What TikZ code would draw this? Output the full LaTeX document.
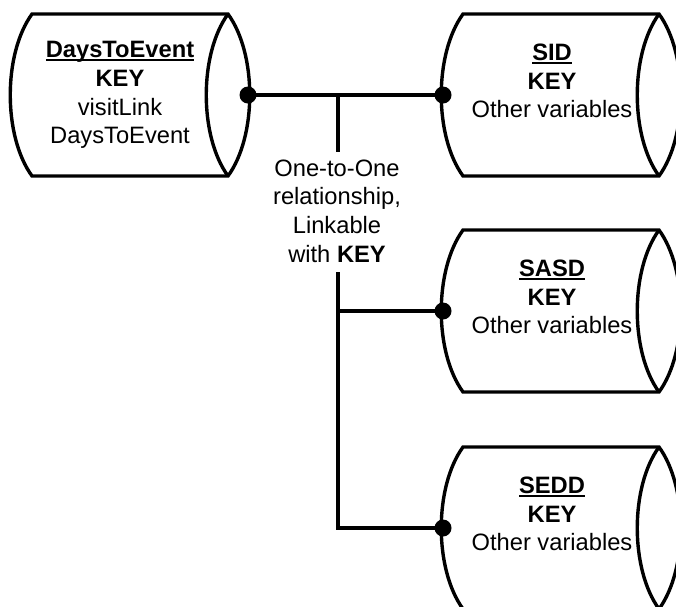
\documentclass[tikz,border=0pt]{standalone}
\usepackage{fontspec}
\setmainfont{Liberation Sans}
\newsavebox\myulbox
\newcommand\myul[1]{\sbox\myulbox{#1}\rlap{\rule[-3.2pt]{\wd\myulbox}{1.9pt}}\usebox\myulbox}
\newcommand\drawcyl[3]{%
  \draw[cylline] (#1,#2-81) -- (#3,#2-81) .. controls (#3+29,#2-41) and (#3+29,#2+41) .. (#3,#2+81)
     -- (#1,#2+81) .. controls (#1-29,#2+41) and (#1-29,#2-41) .. (#1,#2-81) -- cycle;
  \draw[cylline] (#3,#2-81) .. controls (#3-29,#2-41) and (#3-29,#2+41) .. (#3,#2+81);
}
\begin{document}
\begin{tikzpicture}[x=1pt,y=-1pt,
  cylline/.style={line width=3.4pt, line join=miter},
  conn/.style={line width=3.4pt},
  dot/.style={circle, fill=black, inner sep=0pt, minimum size=17pt},
  txt/.style={align=center, font=\fontsize{23.7}{28.6}\selectfont, inner sep=0pt}]
\useasboundingbox (0,0) rectangle (676,606);
% cylinders
\drawcyl{32}{95}{228}
\drawcyl{463}{95}{659}
\drawcyl{463}{311}{659}
\drawcyl{463}{528}{659}
% texts
\node[txt] (tDays) at (120,95) {\myul{\textbf{DaysToEvent}}\\\textbf{KEY}\\visitLink\\DaysToEvent};
\node[txt] (tSID) at (552,81) {\myul{\textbf{SID}}\\\textbf{KEY}\\Other variables};
\node[txt] (tSASD) at (552,297) {\myul{\textbf{SASD}}\\\textbf{KEY}\\Other variables};
\node[txt] (tSEDD) at (552,514) {\myul{\textbf{SEDD}}\\\textbf{KEY}\\Other variables};
\node[txt] (lbl) at (337,211) {One-to-One\\relationship,\\Linkable\\with \textbf{KEY}};
% connection points
\node[dot] (dDays) at (248,95) {};
\node[dot] (dSID) at (443,95) {};
\node[dot] (dSASD) at (443,311) {};
\node[dot] (dSEDD) at (443,528) {};
\coordinate (j1) at (338,95);
\coordinate (j2) at (338,311);
\coordinate (j3) at (338,528);
\coordinate (lt) at (338,152);
\coordinate (lb) at (338,272);
% connectors
\draw[conn] (dDays.center) -- (dSID.center);
\draw[conn] (j1) -- (lt);
\draw[conn] (lb) -- (j3) -- (dSEDD.center);
\draw[conn] (j2) -- (dSASD.center);
\end{tikzpicture}
\end{document}
